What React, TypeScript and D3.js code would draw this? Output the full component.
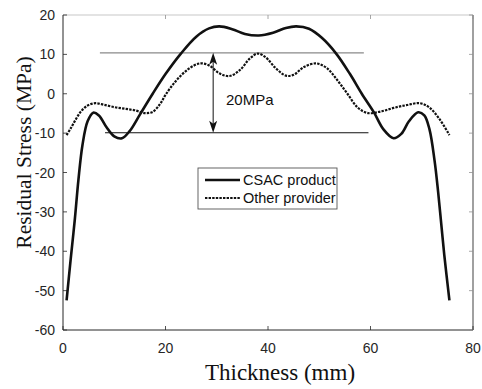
import React from "react";
import * as d3 from "d3";

const W = 482;
const H = 389;

const xTicks = [0, 20, 40, 60, 80];
const yTicks = [20, 10, 0, -10, -20, -30, -40, -50, -60];

const csacX = [0.7, 1.5, 2.3, 3.0, 3.8, 4.8, 5.9, 7.0, 8.5, 10.0, 11.5, 13.0, 15.0, 17.5, 20.0, 23.0, 26.0, 28.5, 30.5, 33.0, 35.5, 38.2, 41.0, 43.5, 45.5, 48.0, 50.5, 53.3, 56.0, 58.3, 60.7, 62.5, 64.5, 66.0, 67.5, 69.3, 70.5, 71.5, 72.5, 73.2, 73.8, 74.4, 75.4];
const csacY = [-52.5, -42, -32, -22, -13, -7, -4.8, -5.5, -8.5, -10.8, -11.3, -9.5, -5.3, 0, 5, 10.2, 14.5, 16.6, 17.1, 16.4, 15.2, 14.8, 15.5, 16.7, 17.1, 16.5, 14.2, 10.2, 5, 0, -4.8, -9, -11.3, -10.2, -7, -4.7, -5.5, -9, -17, -25, -33, -41, -52.5];

const otherX = [0.7, 1.5, 2.5, 3.5, 4.8, 6.3, 8.0, 10.0, 12.0, 14.0, 16.0, 17.5, 19.0, 20.0, 22.0, 24.5, 26.7, 28.5, 30.5, 32.5, 34.5, 36.5, 38.0, 39.5, 41.5, 43.5, 45.0, 47.0, 49.4, 51.5, 53.5, 55.5, 57.5, 59.5, 62.0, 64.5, 67.0, 69.6, 71.5, 73.5, 75.4];
const otherY = [-10.5, -8.8, -6.5, -4.5, -3, -2.4, -2.8, -3.4, -3.8, -4.2, -4.9, -4.6, -2.5, -0.3, 3.2, 6.3, 7.7, 7.2, 5.2, 4.5, 6.0, 9.0, 10.2, 9.3, 6.5, 4.6, 4.8, 6.8, 7.7, 6.5, 3.5, 0, -3.5, -4.9, -4.5, -3.6, -2.9, -2.4, -3.5, -6.5, -10.5];

const upperRef = { x0: 7.2, x1: 58.7, y: 10.4 };
const lowerRef = { x0: 8.2, x1: 59.6, y: -9.9 };
const arrowX = 29.3;
const seriesNames = ["CSAC product", "Other provider"];
const xLabel = "Thickness (mm)";
const yLabel = "Residual Stress (MPa)";
const diffLabel = "20MPa";

export default function App() {
  const L = 63, R = 473, T = 15, B = 330;
  const x = d3.scaleLinear().domain([0, 80]).range([L, R]);
  const y = d3.scaleLinear().domain([-60, 20]).range([B, T]);
  const line = d3
    .line<[number, number]>()
    .x((d) => x(d[0]))
    .y((d) => y(d[1]))
    .curve(d3.curveCatmullRom.alpha(0.5));
  const csac = csacX.map((v, i) => [v, csacY[i]] as [number, number]);
  const other = otherX.map((v, i) => [v, otherY[i]] as [number, number]);
  const tick = 4;
  const ax = x(arrowX);
  const yTop = y(upperRef.y);
  const yBot = y(lowerRef.y);
  const ah = 12, aw = 4;
  const sans = "'Liberation Sans', Arial, sans-serif";
  const serif = "'Liberation Serif', 'Times New Roman', serif";
  const tc = "#262626";
  return (
    <svg width={W} height={H} style={{ position: "absolute", left: 0, top: 0, background: "#fff" }}>
      <rect x={0} y={0} width={W} height={H} fill="#fff" />
      {/* box */}
      <line x1={L} x2={R} y1={T} y2={T} stroke="#c8c8c8" strokeWidth={1.2} />
      <line x1={R} x2={R} y1={T} y2={B} stroke="#808080" strokeWidth={1.5} />
      <line x1={L} x2={L} y1={T} y2={B} stroke={tc} strokeWidth={1} />
      <line x1={L} x2={R} y1={B} y2={B} stroke={tc} strokeWidth={1} />
      {xTicks.map((t) => (
        <g key={"xt" + t}>
          <line x1={x(t)} x2={x(t)} y1={B} y2={B - tick} stroke={tc} strokeWidth={0.8} />
          <line x1={x(t)} x2={x(t)} y1={T} y2={T + tick} stroke="#909090" strokeWidth={0.8} />
          <text x={x(t)} y={353} textAnchor="middle" fontFamily={sans} fontSize={14} fill={tc}>
            {t}
          </text>
        </g>
      ))}
      {yTicks.map((t) => (
        <g key={"yt" + t}>
          <line x1={L} x2={L + tick} y1={y(t)} y2={y(t)} stroke={tc} strokeWidth={0.8} />
          <line x1={R} x2={R - tick} y1={y(t)} y2={y(t)} stroke="#909090" strokeWidth={0.8} />
          <text x={55} y={y(t) + 5} textAnchor="end" fontFamily={sans} fontSize={14} fill={tc}>
            {t}
          </text>
        </g>
      ))}
      {/* reference lines */}
      <line x1={x(upperRef.x0)} x2={x(upperRef.x1)} y1={yTop} y2={yTop} stroke="#8a8a8a" strokeWidth={1.3} />
      <line x1={x(lowerRef.x0)} x2={x(lowerRef.x1)} y1={yBot} y2={yBot} stroke="#111" strokeWidth={1.2} />
      <line x1={ax} x2={ax} y1={yTop + 4} y2={yBot - 4} stroke="#111" strokeWidth={1} />
      <path d={`M${ax},${yTop} L${ax - aw},${yTop + ah} L${ax},${yTop + ah - 3} L${ax + aw},${yTop + ah} Z`} fill="#111" />
      <path d={`M${ax},${yBot} L${ax - aw},${yBot - ah} L${ax},${yBot - ah + 3} L${ax + aw},${yBot - ah} Z`} fill="#111" />
      <text x={226} y={105} fontFamily={sans} fontSize={15} fill="#111">
        {diffLabel}
      </text>
      {/* series */}
      <path d={line(other) || ""} fill="none" stroke="#111" strokeWidth={2.2} strokeDasharray="2.4,1.2" />
      <path d={line(csac) || ""} fill="none" stroke="#111" strokeWidth={2.6} strokeLinejoin="round" />
      {/* legend */}
      <rect x={198} y={168} width={139} height={41} fill="#fff" stroke="#555" strokeWidth={0.9} />
      <line x1={205} x2={240} y1={180} y2={180} stroke="#111" strokeWidth={2.6} />
      <line x1={205} x2={240} y1={198} y2={198} stroke="#111" strokeWidth={2.2} strokeDasharray="2.4,1.2" />
      <text x={243} y={184.5} fontFamily={sans} fontSize={14.5} fill="#111">
        {seriesNames[0]}
      </text>
      <text x={243} y={203} fontFamily={sans} fontSize={14.5} fill="#111">
        {seriesNames[1]}
      </text>
      {/* axis labels */}
      <text x={280} y={380} textAnchor="middle" fontFamily={serif} fontSize={23} fill="#111">
        {xLabel}
      </text>
      <text
        transform={`translate(31,${152.5}) rotate(-90)`}
        textAnchor="middle"
        fontFamily={serif}
        fontSize={21.5}
        fill="#111"
      >
        {yLabel}
      </text>
    </svg>
  );
}
